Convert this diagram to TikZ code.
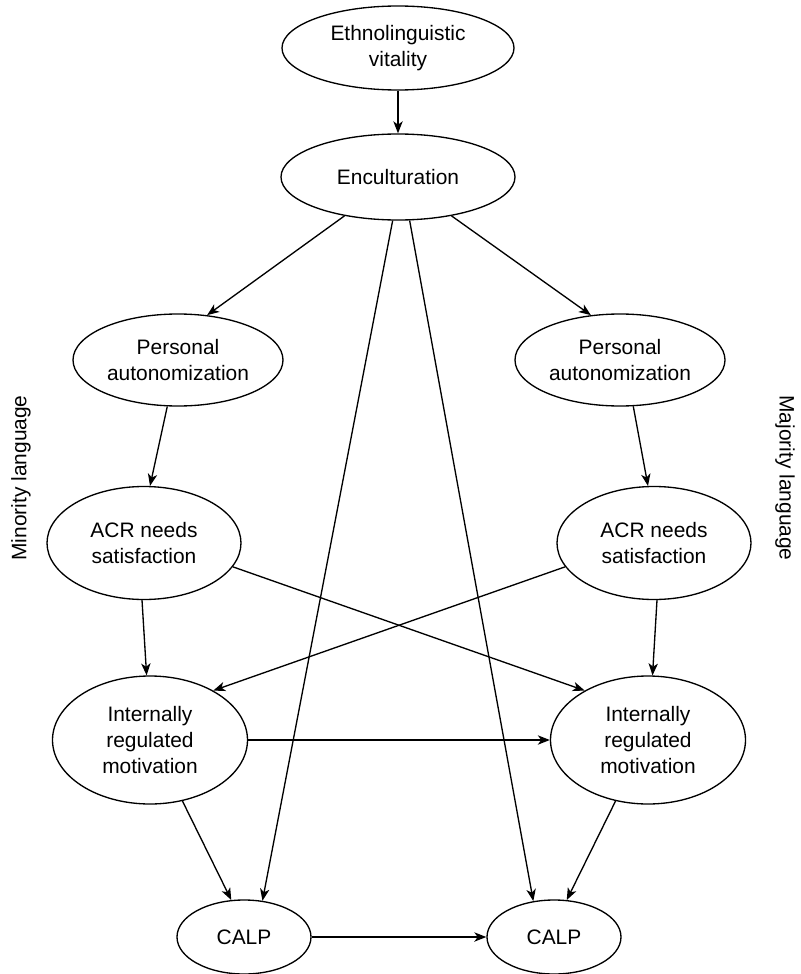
\documentclass[tikz,border=0pt]{standalone}
\usepackage{fontspec}
\setmainfont{Liberation Sans}
\usetikzlibrary{shapes.geometric,arrows.meta}

\tikzset{every picture/.style={line width=1pt}}
\tikzset{
  ell/.style={draw, ellipse, inner xsep=-8pt, inner ysep=0pt, align=center,
    font=\fontsize{15.7pt}{19.5pt}\selectfont},
  conn/.style={-{Stealth[length=9pt,width=7pt,inset=2.5pt]}},
  side/.style={font=\fontsize{15.7pt}{19.5pt}\selectfont}
}

\begin{document}
\begin{tikzpicture}[x=0.75pt,y=0.75pt,yscale=-1,xscale=1]
\useasboundingbox (0,0) rectangle (800,974);

% Text Node
\node[ell, minimum width=174pt, minimum height=63pt] (ethno) at (398,48) {Ethnolinguistic\\vitality};
% Text Node
\node[ell, minimum width=175.5pt, minimum height=64.5pt] (enc) at (398,177) {Enculturation};
% Text Node
\node[ell, minimum width=157.5pt, minimum height=69pt] (persl) at (178,360) {Personal\\autonomization};
% Text Node
\node[ell, minimum width=157.5pt, minimum height=69pt] (persr) at (620,360) {Personal\\autonomization};
% Text Node
\node[ell, minimum width=145.5pt, minimum height=84.75pt] (acrl) at (144,543) {ACR needs\\satisfaction};
% Text Node
\node[ell, minimum width=145.5pt, minimum height=84.75pt] (acrr) at (654,543) {ACR needs\\satisfaction};
% Text Node
\node[ell, minimum width=146.25pt, minimum height=96pt] (motl) at (150,740) {Internally\\regulated\\motivation};
% Text Node
\node[ell, minimum width=146.25pt, minimum height=96pt] (motr) at (648,740) {Internally\\regulated\\motivation};
% Text Node
\node[ell, minimum width=100.5pt, minimum height=55.5pt] (calpl) at (244,937) {CALP};
% Text Node
\node[ell, minimum width=100.5pt, minimum height=55.5pt] (calpr) at (554,937) {CALP};

% Side labels
\node[side, rotate=90] (minor) at (21,478) {Minority language};
\node[side, rotate=-90] (major) at (785,478) {Majority language};

% Connection
\draw[conn] (ethno.south) -- (enc.north);
% Connection
\draw[conn] (enc.216) -- (persl.57);
% Connection
\draw[conn] (enc.-36) -- (persr.123);
% Connection
\draw[conn] (persl.257) -- (acrl.84);
% Connection
\draw[conn] (persr.-74) -- (acrr.96);
% Connection
\draw[conn] (acrl.268) -- (motl.93);
% Connection
\draw[conn] (acrr.273) -- (motr.86);
% Connection
\draw[conn] (acrl.-15) -- (motr.142);
% Connection
\draw[conn] (acrr.195) -- (motl.38);
% Connection
\draw[conn] (motl.east) -- (motr.west);
% Connection
\draw[conn] (motl.-62) -- (calpl.109);
% Connection
\draw[conn] (motr.242) -- (calpr.71);
% Connection
\draw[conn] (enc.263) -- (calpl.63);
% Connection
\draw[conn] (enc.-75) -- (calpr.120);
% Connection
\draw[conn] (calpl.east) -- (calpr.west);

\end{tikzpicture}
\end{document}
